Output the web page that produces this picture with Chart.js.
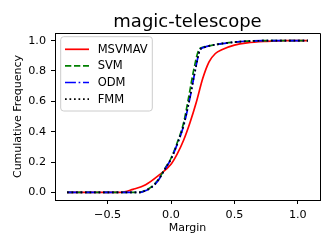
<!DOCTYPE html>
<html>
<head>
<meta charset="utf-8">
<script src="https://cdn.jsdelivr.net/npm/chart.js@4.4.0/dist/chart.umd.min.js"></script>
<style>
  html, body { margin: 0; padding: 0; background: #fff; }
  canvas { display: block; }
</style>
</head>
<body>
<canvas id="myChart" width="332" height="249"></canvas>
<script>
//labels
const chartTitle = "magic-telescope";
const xLabel = "Margin";
const yLabel = "Cumulative Frequency";
const xTicks = [-0.5, 0.0, 0.5, 1.0];
const yTicks = [0.0, 0.2, 0.4, 0.6, 0.8, 1.0];
const seriesNames = ["MSVMAV", "SVM", "ODM", "FMM"];

//data (margin -> cumulative frequency)
const msvmavX = [-0.82, -0.4, -0.3, -0.2, -0.1, 0.0, 0.05, 0.1, 0.15, 0.2, 0.25, 0.3, 0.35, 0.4, 0.5, 0.6, 0.75, 0.9, 1.08];
const msvmavY = [0, 0, 0.02, 0.05, 0.11, 0.185, 0.255, 0.345, 0.46, 0.595, 0.75, 0.86, 0.915, 0.94, 0.97, 0.985, 0.995, 1.0, 1.0];

const svmX = [-0.82, -0.25, -0.2, -0.15, -0.1, -0.05, 0.0, 0.05, 0.1, 0.14, 0.18, 0.22, 0.25, 0.3, 0.4, 0.5, 0.6, 0.8, 1.08];
const svmY = [0, 0, 0.014, 0.04, 0.085, 0.155, 0.225, 0.33, 0.46, 0.63, 0.81, 0.94, 0.955, 0.965, 0.98, 0.99, 0.996, 1.0, 1.0];

const odmX = [-0.82, -0.24, -0.2, -0.15, -0.1, -0.05, 0.0, 0.05, 0.1, 0.15, 0.19, 0.23, 0.26, 0.3, 0.4, 0.5, 0.6, 0.8, 1.08];
const odmY = [0, 0, 0.012, 0.035, 0.08, 0.15, 0.22, 0.32, 0.44, 0.625, 0.80, 0.94, 0.955, 0.965, 0.98, 0.99, 0.996, 1.0, 1.0];

const fmmX = [-0.82, -0.24, -0.2, -0.15, -0.1, -0.05, 0.0, 0.05, 0.1, 0.15, 0.19, 0.23, 0.26, 0.3, 0.4, 0.5, 0.6, 0.8, 1.08];
const fmmY = [0, 0, 0.012, 0.036, 0.081, 0.15, 0.22, 0.32, 0.445, 0.63, 0.80, 0.94, 0.955, 0.965, 0.98, 0.99, 0.996, 1.0, 1.0];

const FONT = "'DejaVu Sans', sans-serif";
const LW = 1.7;

function toPoints(xs, ys) {
    return xs.map((x, i) => ({ x: x, y: ys[i] }));
}

function fmtTick(v) {
    return (v < 0 ? '\u2212' : '') + Math.abs(v).toFixed(1);
}

// top/right spines, title and the boxed legend in the upper left
const decorPlugin = {
    id: 'decor',
    afterDraw(chart) {
        const ctx = chart.ctx;
        const { left, right, top, bottom } = chart.chartArea;
        ctx.save();

        ctx.strokeStyle = '#000';
        ctx.lineWidth = 1;
        ctx.beginPath();
        ctx.moveTo(left, top + 0.5);
        ctx.lineTo(right + 0.5, top + 0.5);
        ctx.lineTo(right + 0.5, bottom);
        ctx.stroke();

        ctx.fillStyle = '#000';
        ctx.font = '18px ' + FONT;
        ctx.textAlign = 'center';
        ctx.textBaseline = 'alphabetic';
        ctx.fillText(chartTitle, (left + right) / 2, 27);

        // legend frame
        const bx = left + 5.7, by = top + 3.7, bw = 91.6, bh = 74.3, r = 3;
        ctx.beginPath();
        ctx.moveTo(bx + r, by);
        ctx.arcTo(bx + bw, by, bx + bw, by + bh, r);
        ctx.arcTo(bx + bw, by + bh, bx, by + bh, r);
        ctx.arcTo(bx, by + bh, bx, by, r);
        ctx.arcTo(bx, by, bx + bw, by, r);
        ctx.closePath();
        ctx.fillStyle = 'rgba(255,255,255,0.8)';
        ctx.fill();
        ctx.strokeStyle = '#cccccc';
        ctx.lineWidth = 1;
        ctx.stroke();

        ctx.font = '11.5px ' + FONT;
        ctx.textAlign = 'left';
        ctx.textBaseline = 'middle';
        chart.data.datasets.forEach((ds, i) => {
            const y = top + 16.3 + i * 16.6;
            ctx.strokeStyle = ds.borderColor;
            ctx.lineWidth = ds.borderWidth;
            ctx.setLineDash(ds.borderDash || []);
            ctx.beginPath();
            ctx.moveTo(left + 10, y);
            ctx.lineTo(left + 34, y);
            ctx.stroke();
            ctx.setLineDash([]);
            ctx.fillStyle = '#000';
            ctx.fillText(ds.label, left + 42.7, y + 0.5);
        });

        ctx.restore();
    }
};

const ctx = document.getElementById('myChart').getContext('2d');
const chart = new Chart(ctx, {
    type: 'scatter',
    data: {
        datasets: [
            {
                label: seriesNames[0],
                data: toPoints(msvmavX, msvmavY),
                borderColor: '#ff0000',
                borderWidth: LW,
                order: 3
            },
            {
                label: seriesNames[1],
                data: toPoints(svmX, svmY),
                borderColor: '#008000',
                borderWidth: LW,
                borderDash: [6.3, 2.7],
                order: 2
            },
            {
                label: seriesNames[2],
                data: toPoints(odmX, odmY),
                borderColor: '#0000ff',
                borderWidth: LW,
                borderDash: [10.9, 2.7, 1.7, 2.7],
                order: 1
            },
            {
                label: seriesNames[3],
                data: toPoints(fmmX, fmmY),
                borderColor: '#000000',
                borderWidth: LW,
                borderDash: [1.7, 2.8],
                order: 0
            }
        ]
    },
    options: {
        responsive: false,
        animation: false,
        devicePixelRatio: 1,
        layout: { padding: { left: 0, right: 12, top: 33, bottom: 0 } },
        elements: {
            point: { radius: 0, hoverRadius: 0 },
            line: { cubicInterpolationMode: 'monotone', fill: false }
        },
        datasets: { scatter: { showLine: true } },
        plugins: {
            legend: { display: false },
            tooltip: { enabled: false },
            title: { display: false }
        },
        scales: {
            x: {
                type: 'linear',
                min: -0.915,
                max: 1.175,
                afterBuildTicks: s => { s.ticks = xTicks.map(v => ({ value: v })); },
                afterFit: s => { s.height = 49; },
                ticks: { color: '#000', font: { family: FONT, size: 11.2 }, padding: 4, callback: fmtTick, maxRotation: 0 },
                grid: { drawOnChartArea: false, drawTicks: true, tickLength: 4, color: '#000', tickWidth: 1 },
                border: { display: true, color: '#000', width: 1 },
                title: { display: true, text: xLabel, color: '#000', font: { family: FONT, size: 11 }, padding: { top: 0, bottom: 14 } }
            },
            y: {
                type: 'linear',
                min: -0.05,
                max: 1.05,
                afterBuildTicks: s => { s.ticks = yTicks.map(v => ({ value: v })); },
                afterFit: s => { s.width = 55; },
                ticks: { color: '#000', font: { family: FONT, size: 11.2 }, padding: 5, callback: fmtTick },
                grid: { drawOnChartArea: false, drawTicks: true, tickLength: 4, color: '#000', tickWidth: 1 },
                border: { display: true, color: '#000', width: 1 },
                title: { display: true, text: yLabel, color: '#000', font: { family: FONT, size: 11 }, padding: { top: 11.4, bottom: 0 } }
            }
        }
    },
    plugins: [decorPlugin]
});
</script>
</body>
</html>
